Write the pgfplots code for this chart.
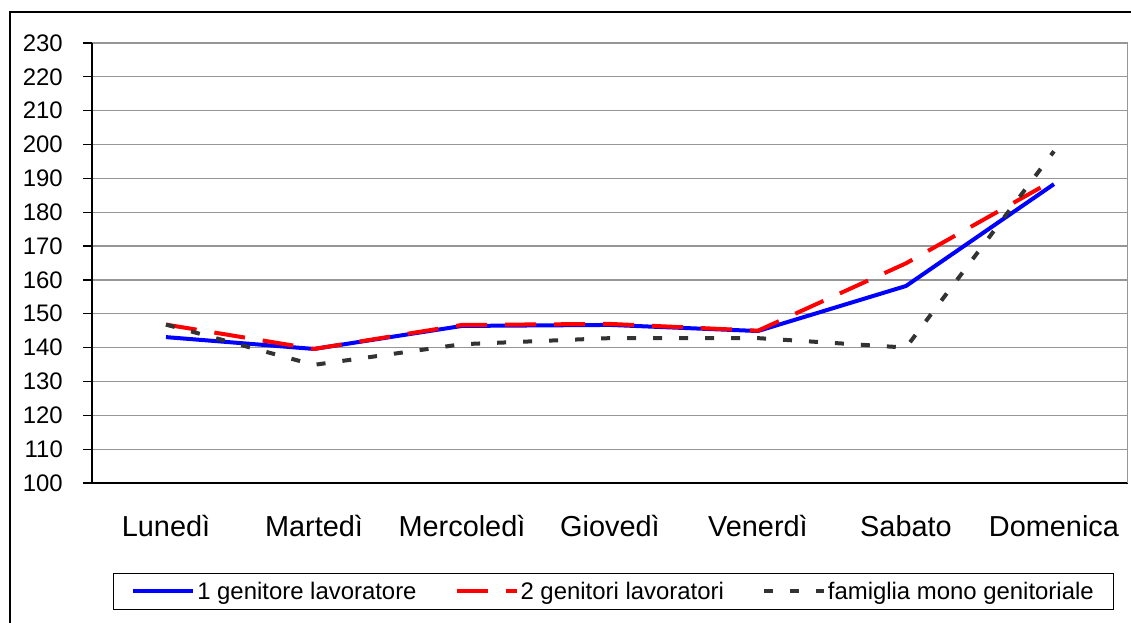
\documentclass[border=0pt]{standalone}
\usepackage{pgfplots}
\pgfplotsset{compat=1.18}
\usepackage{fontspec}
\setmainfont{Liberation Sans}
\definecolor{sblue}{RGB}{0,0,255}
\definecolor{sred}{RGB}{255,0,0}
\definecolor{sgray}{RGB}{51,51,51}
\definecolor{gridc}{RGB}{150,150,150}
\begin{document}
\begin{tikzpicture}[x=1bp,y=1bp]
\useasboundingbox (0,0) rectangle (1131,623);
\draw[line width=2bp] (10,-20) -- (10,610.5) -- (1160,610.5);
\begin{axis}[
  at={(92bp,140bp)}, anchor=south west,
  scale only axis, width=1036bp, height=440bp,
  xmin=0, xmax=7, ymin=100, ymax=230,
  xtick={0.5,1.5,2.5,3.5,4.5,5.5,6.5},
  xticklabels={Lunedì,Martedì,Mercoledì,Giovedì,Venerdì,Sabato,Domenica},
  ytick={100,110,...,230},
  axis x line*=bottom, axis y line*=left,
  axis line style={black, line width=1.2bp},
  ymajorgrids, xmajorgrids=false,
  grid style={gridc, line width=1.2bp},
  tick align=outside,
  major tick length=9bp,
  xtick style={draw=none},
  ytick style={black, line width=1.2bp},
  /pgf/number format/assume math mode=true,
  yticklabel style={font=\fontsize{24}{28}\selectfont, anchor=east, inner sep=0pt, xshift=-20bp},
  xticklabel style={font=\fontsize{29}{34}\selectfont, anchor=base, inner sep=0pt, yshift=-45bp},
  legend columns=3,
  legend cell align=left,
  legend image code/.code={\draw[#1] (0bp,0bp) -- (60bp,0bp);},
  legend style={at={(0.5034,-0.2466)}, anchor=center, draw=black, line width=1bp,
    font=\fontsize{24}{29}\selectfont,
    inner xsep=18bp, inner ysep=6bp,
    nodes={inner xsep=2bp, inner ysep=3bp},
    /tikz/every even column/.append style={column sep=36bp}},
]
\addplot[sblue, line width=4bp, line join=round] coordinates {
 (0.5,143.1) (1.5,139.6) (2.5,146.4) (3.5,146.7) (4.5,144.9) (5.5,158.2) (6.5,188.3)};
\addlegendentry{1 genitore lavoratore}
\addplot[sred, line width=4bp, dash pattern=on 31bp off 18bp] coordinates {
 (0.5,146.8) (1.5,139.6) (2.5,146.7) (3.5,147.0) (4.5,145.0) (5.5,164.9) (6.5,189.5)};
\addlegendentry{2 genitori lavoratori}
\addplot[sgray, line width=4bp, dash pattern=on 9bp off 17bp] coordinates {
 (0.5,146.8) (1.5,134.9) (2.5,141.0) (3.5,142.8) (4.5,142.8) (5.5,140.0) (6.5,198.0)};
\addlegendentry{famiglia mono genitoriale}
\pgfplotsinvokeforeach{0,1,2,3,4,5,6,7}{\draw[black, line width=1.2bp] (axis cs:#1,100) -- ++(0,-9bp);}
\draw[gridc, line width=1.5bp] (rel axis cs:1,0) -- (rel axis cs:1,1);
\end{axis}
\end{tikzpicture}
\end{document}
